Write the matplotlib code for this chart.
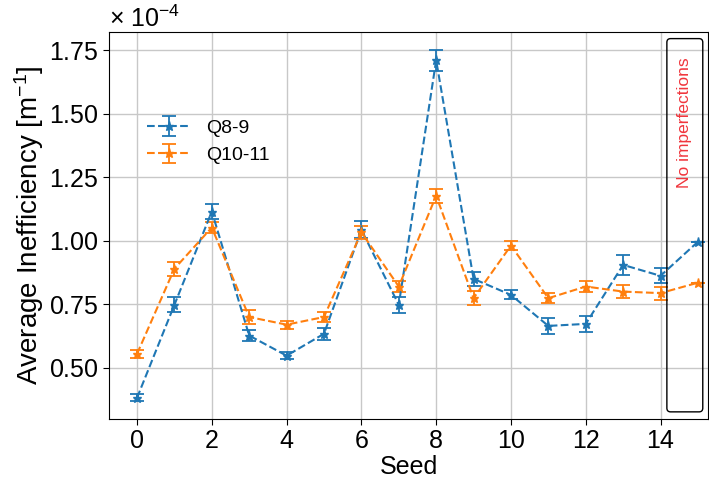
import matplotlib
matplotlib.use("Agg")
import matplotlib.pyplot as plt
from matplotlib.patches import FancyBboxPatch
from matplotlib.ticker import ScalarFormatter
import numpy as np

plt.rcParams['font.family'] = ['Liberation Sans', 'DejaVu Sans']
plt.rcParams['mathtext.fontset'] = 'custom'
plt.rcParams['mathtext.rm'] = 'Liberation Sans'
plt.rcParams['mathtext.it'] = 'Liberation Sans:italic'

SCALE = 1e-4

seeds = list(range(16))

# average inefficiency in units of 1e-4 m^-1
q89_mean = [0.382, 0.748, 1.115, 0.627, 0.548, 0.634, 1.043, 0.748, 1.71, 0.85,
            0.787, 0.665, 0.673, 0.905, 0.862, 0.996]
q89_err = [0.014, 0.03, 0.03, 0.02, 0.015, 0.024, 0.033, 0.031, 0.041, 0.028,
           0.018, 0.03, 0.03, 0.038, 0.029, 0.0]

q1011_mean = [0.555, 0.89, 1.052, 0.70, 0.67, 0.70, 1.033, 0.82, 1.177, 0.774,
              0.981, 0.774, 0.82, 0.80, 0.794, 0.835]
q1011_err = [0.015, 0.027, 0.02, 0.026, 0.016, 0.02, 0.025, 0.022, 0.028, 0.028,
             0.018, 0.02, 0.022, 0.026, 0.026, 0.0]

series_labels = ["Q8-9", "Q10-11"]
series_colors = ["#1f77b4", "#ff7f0e"]

fig = plt.figure(figsize=(7.09, 4.79), dpi=100)
ax = fig.add_axes([0.1537, 0.1253, 0.9986 - 0.1537, 0.9332 - 0.1253])

for mean, err, label, color in zip([q89_mean, q1011_mean], [q89_err, q1011_err],
                                   series_labels, series_colors):
    m = np.array(mean) * SCALE
    e = np.array(err) * SCALE
    ax.errorbar(seeds, m, yerr=e, fmt='*--', color=color, label=label,
                markersize=6.5, capsize=5, elinewidth=1.3, capthick=1.3,
                linewidth=1.5)

ax.set_xlim(-0.75, 15.27)
ax.set_ylim(0.299 * SCALE, 1.821 * SCALE)
ax.set_xticks(range(0, 16, 2))
ax.set_yticks(np.array([0.5, 0.75, 1.0, 1.25, 1.5, 1.75]) * SCALE)

fmt = ScalarFormatter(useMathText=True)
fmt.set_powerlimits((-3, 3))
ax.yaxis.set_major_formatter(fmt)
ax.yaxis.get_offset_text().set_visible(False)
ax.text(0.0, 1.0, r"$\times\ 10^{-4}$", transform=ax.transAxes,
        ha='left', va='bottom', fontsize=18)

ax.grid(True, color='#c8c8c8', linewidth=1.0)
ax.set_axisbelow(True)
ax.tick_params(axis='both', labelsize=18, length=4)

ax.set_xlabel("Seed", fontsize=18, labelpad=1)
ax.set_ylabel("Average Inefficiency [m$^{-1}$]", fontsize=20, labelpad=2)

ax.legend(loc='upper left', bbox_to_anchor=(0.035, 0.82), frameon=False,
          fontsize=14, handlelength=2.2)

# region marking the reference run without imperfections
box = FancyBboxPatch((14.17, 0.327 * SCALE), 0.96, (1.795 - 0.327) * SCALE,
                     boxstyle="round,pad=0,rounding_size=0.1",
                     mutation_aspect=SCALE * 37.4 / 254,
                     transform=ax.transData, facecolor='none',
                     edgecolor='black', linewidth=1.0, zorder=5)
ax.add_patch(box)
ax.text(14.64, 1.72 * SCALE, "No imperfections", rotation=90,
        ha='center', va='top', color='#f0353c', fontsize=12.5, zorder=6)

fig.savefig("out.png", dpi=100)
